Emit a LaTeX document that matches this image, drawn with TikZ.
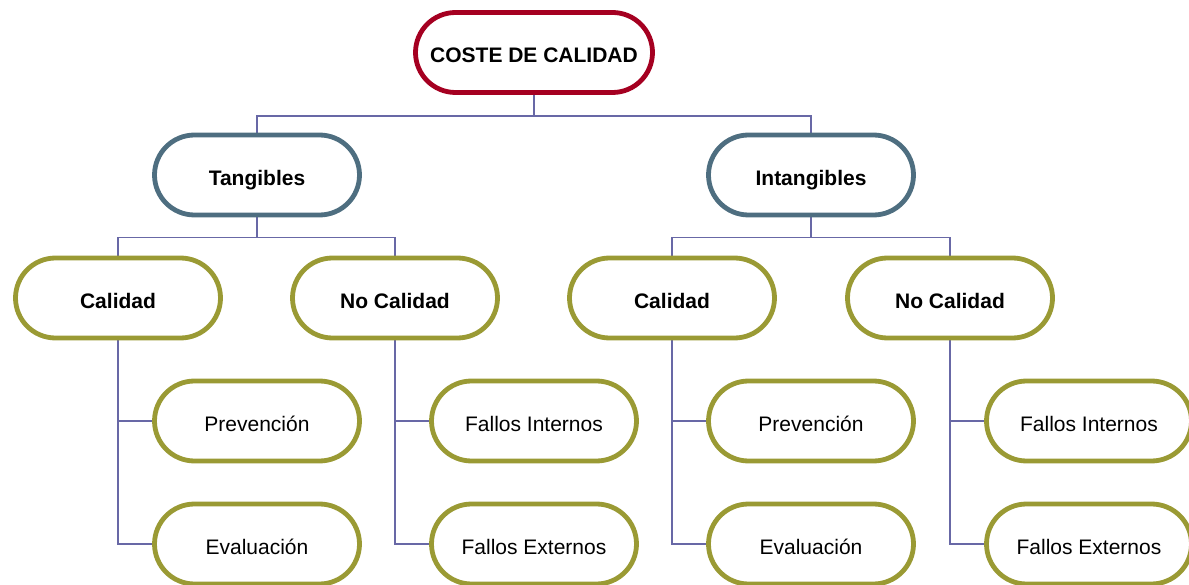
\documentclass[tikz,border=0pt]{standalone}
\usepackage{fontspec}
\setmainfont{Liberation Sans}
\usetikzlibrary{positioning,backgrounds}

\definecolor{costered}{RGB}{165,0,33}
\definecolor{grupoblue}{RGB}{78,110,128}
\definecolor{tipoolive}{RGB}{154,154,52}
\definecolor{linkviolet}{RGB}{104,104,166}

\begin{document}
\begin{tikzpicture}[
  pill/.style={rectangle, rounded corners=40pt, line width=4.8pt, fill=white,
    minimum width=205pt, minimum height=80pt, inner sep=0pt,
    text height=21pt, text depth=0pt, font=\fontsize{21}{25}\selectfont},
  raiz/.style={pill, draw=costered, minimum width=237pt, font=\fontsize{21}{25}\selectfont\bfseries},
  grupo/.style={pill, draw=grupoblue, font=\fontsize{21}{25}\selectfont\bfseries},
  tipo/.style={pill, draw=tipoolive, font=\fontsize{21}{25}\selectfont\bfseries},
  hoja/.style={pill, draw=tipoolive},
  link/.style={draw=linkviolet, line width=1.5pt},
  on grid
]
\clip (0,0) rectangle (1189pt,-585pt);

\node[raiz] (coste) at (534pt,-52.5pt) {COSTE DE CALIDAD};

\node[grupo, below left=122.5pt and 277pt of coste] (tang) {Tangibles};
\node[grupo, below right=122.5pt and 277pt of coste] (intang) {Intangibles};

\node[tipo, below left=123pt and 139pt of tang] (tcal) {Calidad};
\node[tipo, below right=123pt and 138pt of tang] (tnocal) {No Calidad};
\node[tipo, below left=123pt and 139pt of intang] (ical) {Calidad};
\node[tipo, below right=123pt and 139pt of intang] (inocal) {No Calidad};

\node[hoja, below right=123pt and 139pt of tcal] (tprev) {Prevención};
\node[hoja, below=123pt of tprev] (teval) {Evaluación};
\node[hoja, below right=123pt and 139pt of tnocal] (tfint) {Fallos Internos};
\node[hoja, below=123pt of tfint] (tfext) {Fallos Externos};
\node[hoja, below right=123pt and 139pt of ical] (iprev) {Prevención};
\node[hoja, below=123pt of iprev] (ieval) {Evaluación};
\node[hoja, below right=123pt and 139pt of inocal] (ifint) {Fallos Internos};
\node[hoja, below=123pt of ifint] (ifext) {Fallos Externos};

\begin{pgfonlayer}{background}
% arbol
\draw[link] (coste.south) -- ++(0,-21pt) -| (tang.north);
\draw[link] (coste.south) -- ++(0,-21pt) -| (intang.north);
\draw[link] (tang.south) -- ++(0,-20pt) -| (tcal.north);
\draw[link] (tang.south) -- ++(0,-20pt) -| (tnocal.north);
\draw[link] (intang.south) -- ++(0,-20pt) -| (ical.north);
\draw[link] (intang.south) -- ++(0,-20pt) -| (inocal.north);

% hojas
\draw[link] (tcal.south) |- (tprev.west);
\draw[link] (tcal.south) |- (teval.west);
\draw[link] (tnocal.south) |- (tfint.west);
\draw[link] (tnocal.south) |- (tfext.west);
\draw[link] (ical.south) |- (iprev.west);
\draw[link] (ical.south) |- (ieval.west);
\draw[link] (inocal.south) |- (ifint.west);
\draw[link] (inocal.south) |- (ifext.west);
\end{pgfonlayer}
\end{tikzpicture}
\end{document}
